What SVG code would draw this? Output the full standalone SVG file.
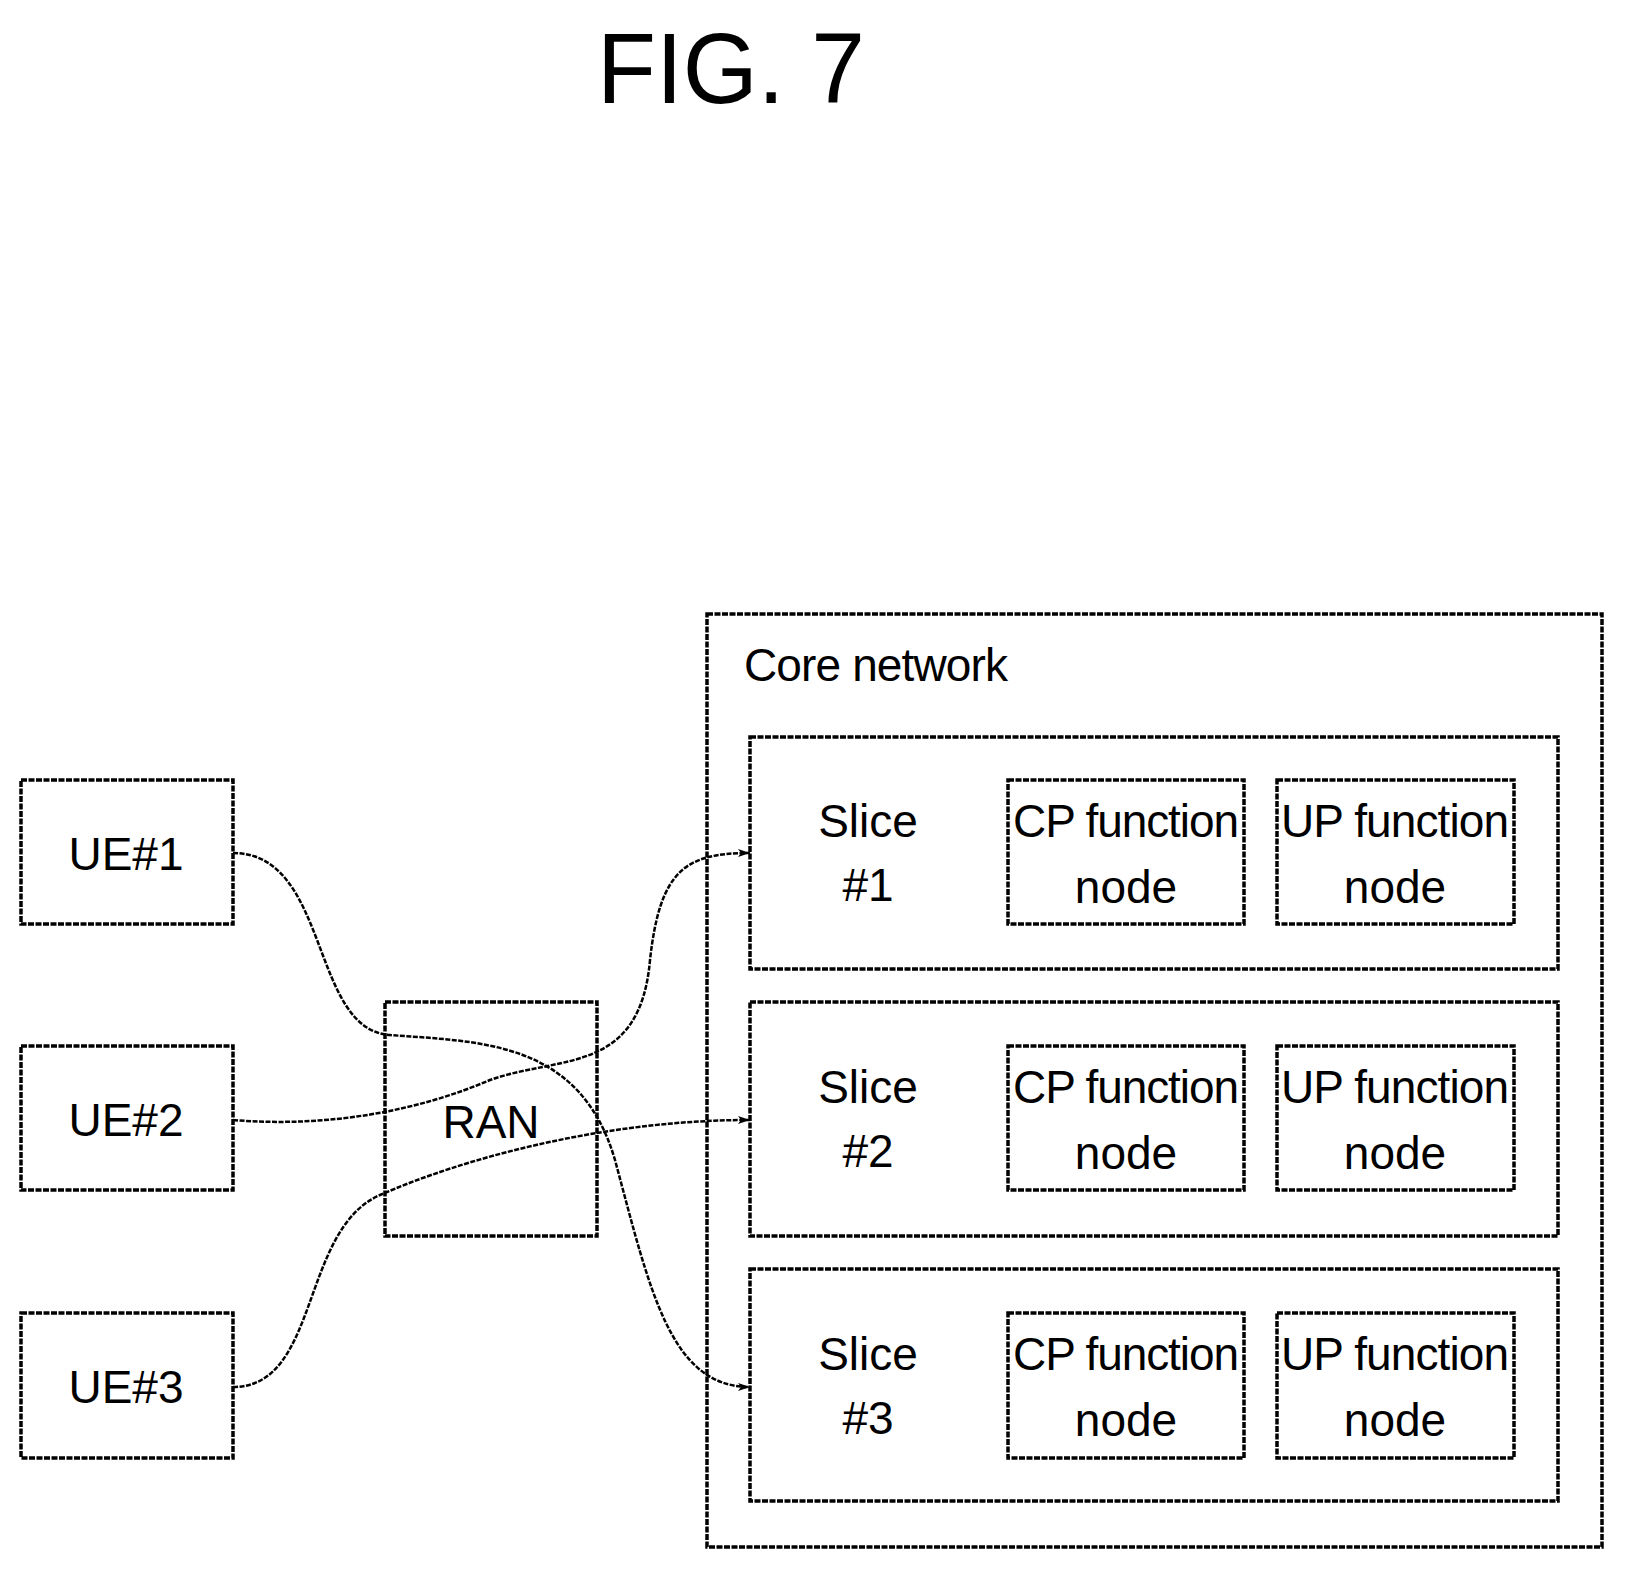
<svg xmlns="http://www.w3.org/2000/svg" width="1625" height="1570" viewBox="0 0 1625 1570">
<style>
rect{fill:none;stroke:#000;stroke-width:3.5;stroke-dasharray:6 1.5}
text{font-family:"Liberation Sans","DejaVu Sans",sans-serif;font-size:46px;fill:#000;text-anchor:middle}
.c{fill:none;stroke:#000;stroke-width:2.5;stroke-dasharray:5 1.5}
</style>
<defs><marker id="a" viewBox="0 0 12 8" refX="12" refY="4" markerWidth="12" markerHeight="8" markerUnits="userSpaceOnUse" orient="auto"><path d="M0,0L12,4L0,8L3,4Z" fill="#000"/></marker></defs>
<text x="731" y="103" style="font-size:100px" textLength="268" lengthAdjust="spacingAndGlyphs">FIG. 7</text>
<g id="core"><rect x="707" y="614" width="895" height="933"/><text x="744" y="681" style="text-anchor:start" textLength="264">Core network</text></g>
<g id="slice1"><rect x="750" y="737" width="808" height="232"/><text x="868" y="837">Slice</text><text x="868" y="901">#1</text></g>
<g id="cp1"><rect x="1008" y="780" width="236" height="144"/><text x="1126" y="837" textLength="226">CP function</text><text x="1126" y="903">node</text></g>
<g id="up1"><rect x="1277" y="780" width="237" height="144"/><text x="1395" y="837" textLength="228">UP function</text><text x="1395" y="903">node</text></g>
<g id="slice2"><rect x="750" y="1002" width="808" height="234"/><text x="868" y="1103">Slice</text><text x="868" y="1167">#2</text></g>
<g id="cp2"><rect x="1008" y="1046" width="236" height="144"/><text x="1126" y="1103" textLength="226">CP function</text><text x="1126" y="1169">node</text></g>
<g id="up2"><rect x="1277" y="1046" width="237" height="144"/><text x="1395" y="1103" textLength="228">UP function</text><text x="1395" y="1169">node</text></g>
<g id="slice3"><rect x="750" y="1269" width="808" height="232"/><text x="868" y="1370">Slice</text><text x="868" y="1434">#3</text></g>
<g id="cp3"><rect x="1008" y="1313" width="236" height="145"/><text x="1126" y="1370" textLength="226">CP function</text><text x="1126" y="1436">node</text></g>
<g id="up3"><rect x="1277" y="1313" width="237" height="145"/><text x="1395" y="1370" textLength="228">UP function</text><text x="1395" y="1436">node</text></g>
<g id="ue1"><rect x="21" y="780" width="212" height="144"/><text x="126" y="870">UE#1</text></g>
<g id="ue2"><rect x="21" y="1046" width="212" height="144"/><text x="126" y="1136">UE#2</text></g>
<g id="ue3"><rect x="21" y="1313" width="212" height="145"/><text x="126" y="1403">UE#3</text></g>
<g id="ran"><rect x="385" y="1002" width="212" height="234"/><text x="491" y="1138">RAN</text></g>
<g id="connectors">
<path class="c" marker-end="url(#a)" d="M233,853 C330,853 310,1030 390,1035 C480,1042 580,1040 615,1160 C650,1290 670,1387 750,1387"/>
<path class="c" marker-end="url(#a)" d="M233,1120 C330,1128 420,1110 490,1080 C560,1055 640,1075 650,960 C660,870 685,853 750,853"/>
<path class="c" marker-end="url(#a)" d="M233,1387 C320,1387 300,1230 380,1195 C460,1160 600,1120 750,1120"/>
</g>
</svg>
